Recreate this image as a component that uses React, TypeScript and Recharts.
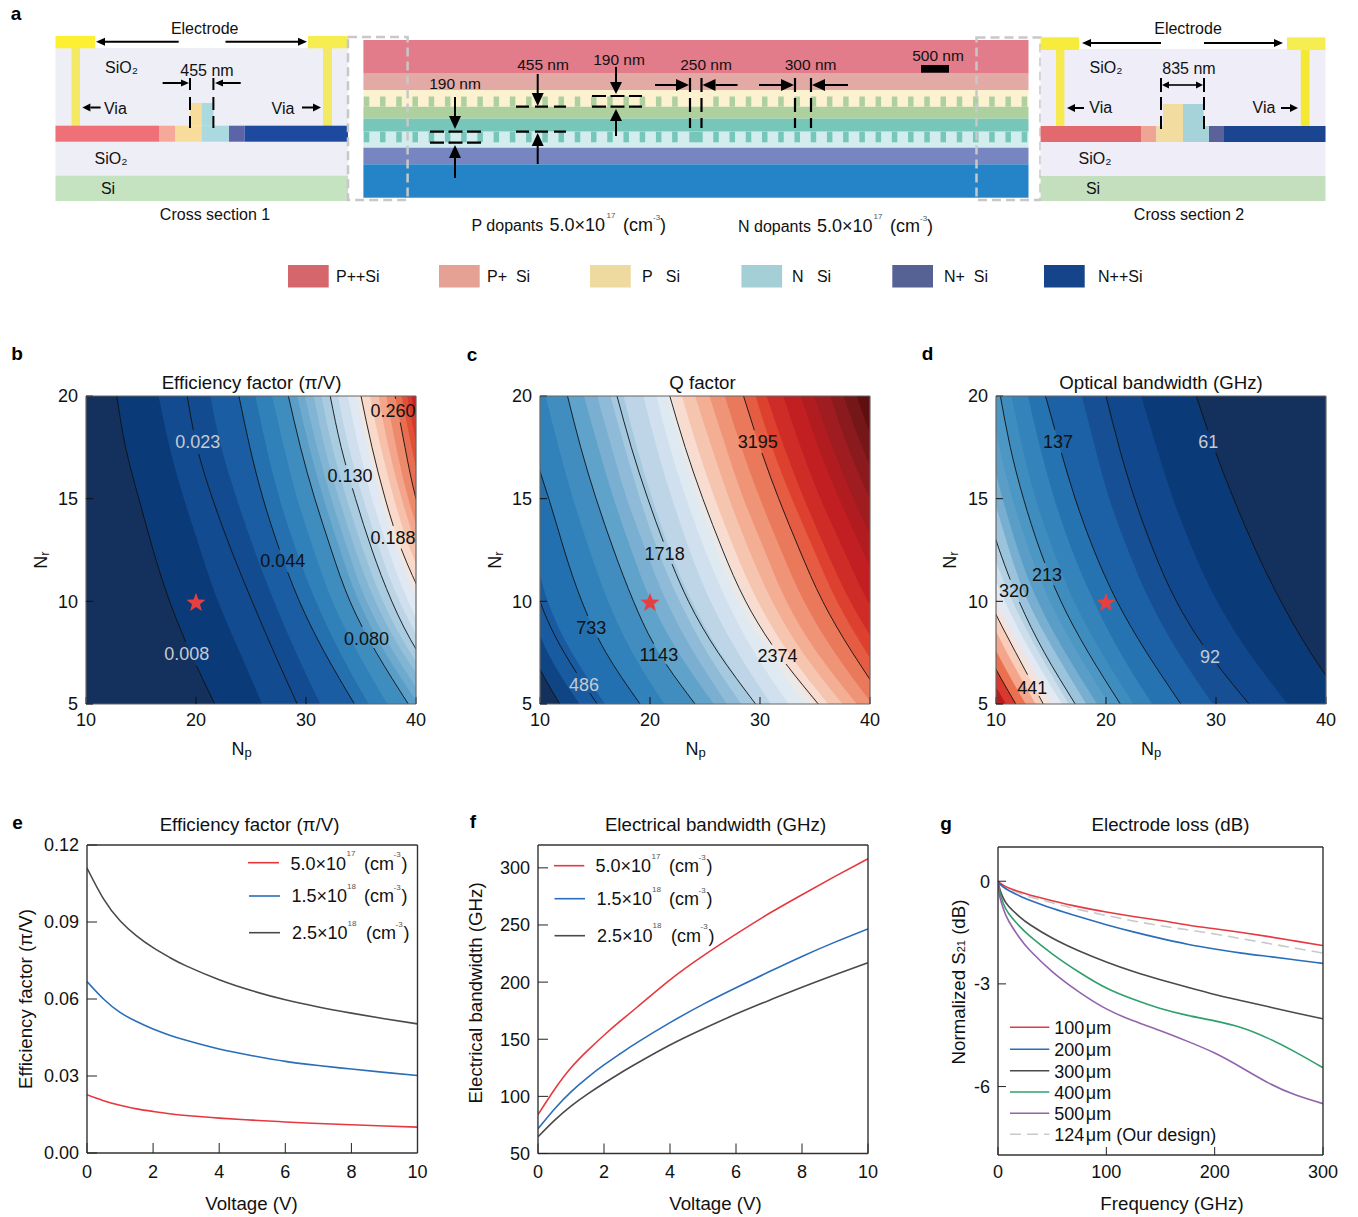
import React from 'react';
import {
  ComposedChart, LineChart, Line, Area, XAxis, YAxis, ReferenceDot, CartesianGrid,
} from 'recharts';

const FONT = '"Liberation Sans", Arial, sans-serif';

/* ---------- panels b, c, d : contour maps ---------- */
const NR_ROWS = [20, 17.5, 15, 12.5, 10, 7.5, 5];

// b: efficiency factor. Np position of each iso-line at every NR_ROWS entry
const bLines = [
  [12.8, 13.6, 14.8, 16.1, 17.6, 19.5, 21.7],
  [19.2, 20.1, 21.5, 23.2, 25.1, 27.1, 29.2],
  [23.9, 24.9, 26.1, 27.6, 29.4, 31.7, 34.4],
  [28.4, 29.5, 30.8, 32.3, 34, 36.4, 39.3],
  [32.2, 33.2, 34.5, 36, 37.8, 40.2, 43.5],
  [35, 36, 37.2, 38.7, 40.8, 43.5, 47],
  [38.1, 39, 40, 41.5, 43.5, 46.5, 50],
];
const bBase = '#14305d';
const bBands = [
  [12.8, 13.6, 14.8, 16.1, 17.6, 19.5, 21.7],
  [16.6, 17.6, 18.9, 20.4, 22, 24, 26],
  [21.3, 22.3, 23.7, 25.3, 27.1, 29.1, 31.3],
  [23.9, 24.9, 26.1, 27.6, 29.4, 31.7, 34.4],
  [25.4, 26.4, 27.6, 29.1, 30.9, 33.1, 35.7],
  [26.9, 28, 29.2, 30.7, 32.4, 34.7, 37.4],
  [28.4, 29.5, 30.8, 32.3, 34, 36.4, 39.3],
  [29.2, 30.3, 31.6, 33.1, 34.8, 37.2, 40.2],
  [29.9, 31, 32.3, 33.8, 35.5, 38, 41],
  [30.7, 31.7, 33, 34.5, 36.3, 38.8, 42],
  [31.4, 32.4, 33.7, 35.2, 37, 39.5, 42.8],
  [32.2, 33.2, 34.5, 36, 37.8, 40.2, 43.5],
  [32.9, 33.9, 35.2, 36.7, 38.5, 41, 44.2],
  [33.8, 34.8, 36, 37.5, 39.3, 41.8, 45],
  [34.6, 35.6, 36.8, 38.3, 40.2, 42.8, 46],
  [35, 36, 37.2, 38.7, 40.8, 43.5, 47],
  [35.8, 36.8, 38, 39.5, 41.6, 44.3, 48],
  [36.6, 37.5, 38.7, 40.2, 42.2, 45, 48.5],
  [37.3, 38.2, 39.3, 40.8, 42.8, 45.7, 49],
  [38.1, 39, 40, 41.5, 43.5, 46.5, 50],
  [38.7, 39.6, 40.7, 42.2, 44.2, 47.2, 51],
  [39.2, 40.1, 41.3, 42.9, 45, 48, 52],
  [39.6, 40.6, 41.9, 43.6, 45.7, 49, 53],
  [39.9, 41.1, 42.5, 44.3, 46.5, 50, 54],
];
const bColors = ['#0a3a78', '#134b90', '#1a5da2', '#2570af', '#3080b9', '#3f8cbf', '#5a9ec8', '#6ea9ce', '#82b4d4', '#96c0da', '#a9cce0', '#bbd4e6', '#cfdfed', '#e0e9f3', '#f0e6e2', '#f9d9ca', '#f6c0aa', '#f3a68b', '#ee8a6c', '#e86e51', '#e05138', '#d63a2d', '#c91f25', '#b81b1e'];
const bLabels = [
  { text: '0.023', np: 20.15, nr: 17.75, light: true },
  { text: '0.130', np: 34, nr: 16.08, light: false },
  { text: '0.260', np: 37.9, nr: 19.27, light: false },
  { text: '0.188', np: 37.9, nr: 13.08, light: false },
  { text: '0.044', np: 27.88, nr: 11.98, light: false },
  { text: '0.080', np: 35.5, nr: 8.18, light: false },
  { text: '0.008', np: 19.15, nr: 7.44, light: true },
];
// where each iso-line is interrupted for its label (along the line, in px)
const bBreaks = ['256 26 3000', '35 24 3000', '159 24 3000', '243 24 3000', '71 24 3000', '134 24 3000', '3 24 3000'];

// c: Q factor
const cLines = [
  [5, 5.5, 6.2, 7, 8, 9.3, 11.8],
  [6.4, 7.1, 7.9, 8.8, 10, 12.2, 15.2],
  [8, 9.3, 10.8, 12.2, 13.8, 16, 19.1],
  [12.5, 13.7, 15.1, 16.7, 18.5, 20.8, 24.1],
  [17, 18.3, 19.8, 21.5, 23.5, 26.2, 29.6],
  [21.8, 23.2, 24.8, 26.6, 28.7, 31.6, 35.3],
  [28.5, 30, 31.7, 33.6, 35.7, 38.4, 41.5],
];
const cBase = '#14305d';
const cBands = [
  [5, 5.5, 6.2, 7, 8, 9.3, 11.8],
  [5.6, 6.2, 7, 7.9, 9, 10.7, 13.6],
  [6.9, 7.7, 8.6, 9.5, 10.7, 12.9, 15.9],
  [8, 9.3, 10.8, 12.2, 13.8, 16, 19.1],
  [10.5, 11.7, 13, 14.5, 16.2, 18.4, 21.3],
  [12.5, 13.7, 15.1, 16.7, 18.5, 20.8, 24.1],
  [14, 15.3, 16.7, 18.3, 20.1, 22.6, 25.8],
  [15.2, 16.5, 17.9, 19.6, 21.5, 24, 27],
  [16.4, 17.7, 19.1, 20.7, 22.7, 25.2, 28.3],
  [17.6, 18.8, 20.2, 21.8, 23.8, 26.4, 29.6],
  [19.4, 20.6, 22, 23.6, 25.5, 28, 31],
  [20.6, 21.8, 23.3, 25, 27, 29.5, 32.6],
  [21.5, 22.8, 24.3, 26, 28, 30.8, 34],
  [22, 23.3, 24.9, 26.7, 28.8, 31.6, 35],
  [22.9, 24.3, 25.9, 27.7, 29.8, 32.6, 36.2],
  [24.1, 25.6, 27.2, 29, 31.1, 33.9, 37.5],
  [25.4, 26.9, 28.5, 30.4, 32.4, 35.2, 38.8],
  [26.8, 28.3, 30, 31.9, 34, 36.8, 40.2],
  [28.5, 30, 31.7, 33.6, 35.7, 38.4, 41.5],
  [29.6, 31.1, 32.9, 34.9, 37, 39.7, 42.7],
  [30.6, 32.2, 34, 36, 38.2, 41, 44],
  [32.1, 33.7, 35.5, 37.6, 39.8, 42.7, 46],
  [33.7, 35.3, 37.2, 39.3, 41.6, 44.6, 48],
  [34.9, 36.6, 38.5, 40.7, 43, 46.2, 50],
  [36.4, 38, 40, 42.3, 44.8, 48, 52],
  [37.6, 39.3, 41.4, 43.8, 46.4, 49.8, 54],
  [38.8, 40.5, 42.7, 45.2, 48, 51.6, 56],
];
const cColors = ['#0f4485', '#185ba0', '#2270b0', '#3182bb', '#418dc0', '#5fa2ca', '#7aafd2', '#8fbbd8', '#a5c9df', '#bdd5e7', '#d0e0ee', '#dfe9f2', '#ebe8e8', '#f7dccf', '#f6c5b0', '#f4ae94', '#ef9477', '#ea785b', '#e55c42', '#dd402f', '#d02c27', '#c21f23', '#b11c20', '#9f1c20', '#8a1a1d', '#751618', '#5f0f12'];
const cLabels = [
  { text: '3195', np: 29.8, nr: 17.75, light: false },
  { text: '1718', np: 21.33, nr: 12.3, light: false },
  { text: '733', np: 14.67, nr: 8.7, light: false },
  { text: '1143', np: 20.8, nr: 7.37, light: false },
  { text: '2374', np: 31.6, nr: 7.33, light: false },
  { text: '486', np: 14, nr: 5.92, light: true },
];
const cBreaks = ['3000', '290 24 3000', '231 24 3000', '263 24 3000', '153 24 3000', '270 24 3000', '36 24 3000'];

// d: optical bandwidth
const dLines = [
  [2, 2.9, 4, 5.6, 7.2, 9.2, 11.8],
  [3.5, 4.4, 5.6, 7.3, 9.4, 11.8, 14.3],
  [6.3, 7.5, 8.8, 10.3, 12.1, 14.4, 17.2],
  [10.4, 11.3, 12.5, 14, 15.9, 18.4, 21.3],
  [14.5, 15.8, 17.2, 18.9, 21, 23.7, 26.8],
  [20, 21.2, 22.6, 24.3, 26.4, 29.3, 33],
  [28.2, 29.8, 31.6, 33.6, 35.9, 38.6, 41.8],
];
const dBase = '#b81b1e';
const dBands = [
  [1, 1.9, 3, 4.6, 6.3, 8.3, 10.9],
  [2, 2.9, 4, 5.6, 7.2, 9.2, 11.8],
  [2.5, 3.4, 4.6, 6.2, 8, 10.1, 12.7],
  [3, 3.9, 5.1, 6.8, 8.7, 11, 13.6],
  [3.5, 4.4, 5.6, 7.3, 9.4, 11.8, 14.3],
  [4.2, 5.2, 6.4, 8, 10, 12.5, 15.1],
  [5, 6, 7.3, 8.9, 10.8, 13.2, 16],
  [5.7, 6.8, 8.1, 9.6, 11.5, 13.9, 16.6],
  [6.3, 7.5, 8.8, 10.3, 12.1, 14.4, 17.2],
  [7.4, 8.5, 9.8, 11.2, 12.9, 15.4, 18.2],
  [8.4, 9.4, 10.6, 12, 13.8, 16.3, 19.2],
  [9.5, 10.3, 11.5, 13, 14.9, 17.4, 20.3],
  [10.4, 11.3, 12.5, 14, 15.9, 18.4, 21.3],
  [11.4, 12.4, 13.6, 15.2, 17.1, 19.6, 22.5],
  [12.9, 14, 15.3, 16.9, 18.9, 21.3, 24.2],
  [14.5, 15.8, 17.2, 18.9, 21, 23.7, 26.8],
  [17.8, 19, 20.3, 22, 24, 26.6, 29.7],
  [20, 21.2, 22.6, 24.3, 26.4, 29.3, 33],
  [23.2, 24.6, 26.1, 27.9, 30.1, 33, 36.5],
  [28.2, 29.8, 31.6, 33.6, 35.9, 38.6, 41.8],
];
const dColors = ['#d8382d', '#ea7050', '#f3a68b', '#f8cdb9', '#f2e3de', '#e2e9f2', '#ccdeec', '#b4d1e4', '#9bc4dc', '#78afd1', '#5a9ec8', '#4c97c4', '#3f8cbf', '#3583bb', '#2673b1', '#1c61a5', '#164f93', '#11478c', '#0b3a78', '#14305d'];
const dLabels = [
  { text: '137', np: 15.64, nr: 17.78, light: false },
  { text: '61', np: 29.3, nr: 17.75, light: true },
  { text: '213', np: 14.64, nr: 11.26, light: false },
  { text: '320', np: 11.64, nr: 10.5, light: false },
  { text: '92', np: 29.45, nr: 7.3, light: true },
  { text: '441', np: 13.3, nr: 5.79, light: false },
];
const dBreaks = ['3000', '299 24 3000', '192 24 3000', '173 24 3000', '35 24 3000', '269 24 3000', '36 24 3000'];

const NP_TICKS = [10, 20, 30, 40];
const NR_TICKS = [5, 10, 15, 20];

/* ---------- panels e, f ---------- */
const VOLTAGE = [0, 0.5, 1, 1.5, 2, 2.5, 3, 4, 5, 6, 7, 8, 9, 10];
const effRed = [0.0227, 0.0204, 0.0186, 0.0172, 0.0162, 0.0153, 0.0146, 0.0136, 0.0128, 0.0121, 0.0115, 0.011, 0.0105, 0.0101];
const effBlue = [0.0668, 0.06, 0.0548, 0.0512, 0.0483, 0.0459, 0.0439, 0.0405, 0.0379, 0.0357, 0.0341, 0.0327, 0.0314, 0.0302];
const effBlack = [0.111, 0.099, 0.0905, 0.0846, 0.08, 0.0762, 0.0729, 0.0675, 0.0632, 0.0597, 0.0569, 0.0545, 0.0523, 0.0503];
const bwRed = [84, 106, 125, 140, 153.5, 166, 178, 202, 223, 242, 260, 276.5, 292.5, 308];
const bwBlue = [71.6, 89, 104, 116.5, 127.5, 137.5, 147, 164.5, 180.5, 195, 209, 222.5, 235, 246.6];
const bwBlack = [64.6, 79, 91.5, 102, 111.5, 120.5, 129, 145, 159, 172, 184, 195.5, 206.5, 217];

/* ---------- panel g ---------- */
const FREQ = [0, 1, 2, 5, 10, 20, 30, 50, 75, 100, 125, 150, 175, 200, 225, 250, 275, 300];
const loss100 = [0, -0.03, -0.06, -0.12, -0.2, -0.31, -0.41, -0.57, -0.75, -0.9, -1.03, -1.15, -1.28, -1.39, -1.5, -1.62, -1.75, -1.88];
const loss200 = [0, -0.05, -0.09, -0.17, -0.27, -0.43, -0.56, -0.79, -1.04, -1.27, -1.48, -1.67, -1.84, -1.98, -2.1, -2.2, -2.3, -2.4];
const loss300 = [0, -0.15, -0.27, -0.5, -0.74, -1.04, -1.28, -1.66, -2.04, -2.36, -2.64, -2.88, -3.1, -3.31, -3.49, -3.67, -3.85, -4.02];
const loss400 = [0, -0.2, -0.36, -0.66, -0.95, -1.32, -1.62, -2.12, -2.66, -3.12, -3.45, -3.72, -3.92, -4.08, -4.28, -4.6, -5.0, -5.45];
const loss500 = [0, -0.3, -0.5, -0.81, -1.17, -1.66, -2.04, -2.64, -3.24, -3.73, -4.08, -4.37, -4.68, -5.02, -5.45, -5.9, -6.25, -6.5];
const loss124 = [0, -0.04, -0.07, -0.14, -0.23, -0.35, -0.46, -0.63, -0.83, -1.0, -1.16, -1.3, -1.42, -1.54, -1.68, -1.82, -1.96, -2.1];
const lossLegend = ['100\u200Aμm', '200\u200Aμm', '300\u200Aμm', '400\u200Aμm', '500\u200Aμm', '124\u200Aμm (Our design)'];

const RED = '#e6393f';
const BLUE = '#2a6dbb';
const DARK = '#4a4a4a';
const GREEN = '#2fa06c';
const PURPLE = '#9264ac';
const DASHED = '#c9c9c9';

/* ---------- panel a legend ---------- */
const layerNames = ['P++Si', 'P+  Si', 'P   Si', 'N   Si', 'N+  Si', 'N++Si'];

const tickStyle = { fontSize: 18, fill: '#111', fontFamily: FONT };

function starPoints(cx: number, cy: number, R: number) {
  const pts: string[] = [];
  for (let i = 0; i < 10; i++) {
    const r = i % 2 === 0 ? R : R * 0.42;
    const a = -Math.PI / 2 + (i * Math.PI) / 5;
    pts.push(`${cx + r * Math.cos(a)},${cy + r * Math.sin(a)}`);
  }
  return pts.join(' ');
}

function ContourPanel({ left, plotW, base, bands, colors, lines, labels, breaks }: any) {
  const rows = NR_ROWS.map((nr, i) => {
    const row: any = { nr };
    bands.forEach((b: number[], k: number) => { row[`b${k}`] = [b[i], 80]; });
    lines.forEach((l: number[], k: number) => { row[`l${k}`] = l[i]; });
    return row;
  });
  const W = 56 + plotW + 34;
  const frame = { stroke: '#666', strokeWidth: 1.2 };
  return (
    <div style={{ position: 'absolute', left: left - 56, top: 366, width: W, height: 400 }}>
      <div style={{ position: 'absolute', left: 0, top: 0 }}>
        <ComposedChart width={W} height={400} data={rows} layout="vertical" margin={{ top: 30, right: 34, bottom: 62, left: 56 }}>
          <CartesianGrid fill={base} stroke="none" horizontal={false} vertical={false} />
          {bands.map((_: any, k: number) => (
            <Area key={k} dataKey={`b${k}`} type="natural" fill={colors[k]} fillOpacity={1} stroke="none" isAnimationActive={false} dot={false} activeDot={false} />
          ))}
          <XAxis hide type="number" domain={[10, 40]} allowDataOverflow />
          <YAxis hide type="number" dataKey="nr" domain={[5, 20]} reversed allowDataOverflow />
        </ComposedChart>
      </div>
      <div style={{ position: 'absolute', left: 0, top: 0 }}>
        <ComposedChart width={W} height={400} data={rows} layout="vertical" margin={{ top: 29, right: 33, bottom: 22, left: 0 }}>
          {lines.map((_: any, k: number) => (
            <Line key={k} dataKey={`l${k}`} type="natural" stroke="#111" strokeWidth={0.9} strokeDasharray={breaks[k]} dot={false} activeDot={false} isAnimationActive={false} />
          ))}
          {labels.map((l: any) => (
            <ReferenceDot
              key={l.text}
              x={l.np}
              y={l.nr}
              r={0}
              ifOverflow="visible"
              shape={(p: any) => (
                <text x={p.cx} y={p.cy} textAnchor="middle" dominantBaseline="central" fontSize={18} fontFamily={FONT}
                  fill={l.light ? '#c6cad2' : '#111'}>
                  {l.text}
                </text>
              )}
            />
          ))}
          <ReferenceDot
            x={20}
            y={10}
            r={0}
            ifOverflow="visible"
            shape={(p: any) => <polygon points={starPoints(p.cx, p.cy + 1.5, 10)} fill="#e63f42" />}
          />
          <XAxis type="number" domain={[10, 40]} ticks={NP_TICKS} allowDataOverflow interval={0} height={40}
            tickSize={-7} tickMargin={16} tick={tickStyle} tickLine={{ stroke: '#111' }} axisLine={frame} />
          <YAxis type="number" dataKey="nr" domain={[5, 20]} reversed ticks={NR_TICKS} allowDataOverflow interval={0} width={56}
            tickSize={-7} tickMargin={15} tick={tickStyle} tickLine={{ stroke: '#111' }} axisLine={frame} />
          <XAxis xAxisId="top" orientation="top" type="number" domain={[10, 40]} ticks={NP_TICKS} allowDataOverflow interval={0} height={1}
            tickSize={-7} tick={false} tickLine={{ stroke: '#111' }} axisLine={frame} />
          <YAxis yAxisId="right" orientation="right" type="number" domain={[5, 20]} reversed ticks={NR_TICKS} allowDataOverflow interval={0} width={1}
            tickSize={-7} tick={false} tickLine={{ stroke: '#111' }} axisLine={frame} />
        </ComposedChart>
      </div>
    </div>
  );
}

function CurvePanel({ plotL, plotT, plotW, plotH, rows, xKey, xDomain, xTicks, yDomain, yTicks, yFmt, series, tickLen, xExtra = 9, curve = 'natural' }: any) {
  const ax = { stroke: '#333', strokeWidth: 1.4 };
  return (
    <div style={{ position: 'absolute', left: plotL - 60, top: plotT - 20 }}>
      <LineChart width={60 + plotW + 30} height={20 + plotH + 60} data={rows} margin={{ top: 19, right: 29, bottom: 20, left: 0 }}>
        {series.map((s: any) => (
          <Line key={s.key} dataKey={s.key} type={curve} stroke={s.color} strokeWidth={s.w || 1.6} strokeDasharray={s.dash} dot={false} activeDot={false} isAnimationActive={false} />
        ))}
        <XAxis type="number" dataKey={xKey} domain={xDomain} ticks={xTicks} allowDataOverflow interval={0} height={40}
          tickSize={-tickLen} tickMargin={tickLen + xExtra} tick={tickStyle} tickLine={{ stroke: '#222' }} axisLine={ax} />
        <YAxis type="number" domain={yDomain} ticks={yTicks} tickFormatter={yFmt} allowDataOverflow interval={0} width={60}
          tickSize={-tickLen} tickMargin={tickLen + 8} tick={tickStyle} tickLine={{ stroke: '#222' }} axisLine={ax} />
        <XAxis xAxisId="top" orientation="top" type="number" domain={xDomain} allowDataOverflow height={1} tick={false} tickLine={false} axisLine={ax} />
        <YAxis yAxisId="right" orientation="right" type="number" domain={yDomain} allowDataOverflow width={1} tick={false} tickLine={false} axisLine={ax} />
      </LineChart>
    </div>
  );
}

/* ---------- overlay helpers ---------- */
function T({ x, y, s = 16, a = 'middle', w, c = '#111', r, children }: any) {
  return (
    <text x={x} y={y} fontSize={s} textAnchor={a} dominantBaseline="central" fontFamily={FONT} fontWeight={w} fill={c} xmlSpace="preserve"
      transform={r ? `rotate(${r} ${x} ${y})` : undefined}>
      {children}
    </text>
  );
}

function Arrow({ x1, y1, x2, y2, sw = 2, hl = 11, hw = 5 }: any) {
  const L = Math.hypot(x2 - x1, y2 - y1);
  const ux = (x2 - x1) / L;
  const uy = (y2 - y1) / L;
  const bx = x2 - ux * hl;
  const by = y2 - uy * hl;
  return (
    <g>
      <line x1={x1} y1={y1} x2={bx} y2={by} stroke="#000" strokeWidth={sw} />
      <polygon points={`${x2},${y2} ${bx - uy * hw},${by + ux * hw} ${bx + uy * hw},${by - ux * hw}`} fill="#000" />
    </g>
  );
}

function R({ x1, x2, y1, y2, f }: any) {
  return <rect x={x1} y={y1} width={x2 - x1} height={y2 - y1} fill={f} />;
}

function Dash({ x1, y1, x2, y2, d = '13 6', sw = 2 }: any) {
  return <line x1={x1} y1={y1} x2={x2} y2={y2} stroke="#000" strokeWidth={sw} strokeDasharray={d} />;
}

function Conc({ x, y, m, ex, sx, px }: any) {
  return (
    <g>
      <T x={x} y={y} s={18} a="start">{m}</T>
      <T x={sx} y={y - 10} s={8} a="start" c="#555">{ex}</T>
      <T x={px} y={y} s={18} a="start">(cm</T>
      <T x={px + 29.5} y={y - 9} s={8} a="start" c="#555">-3</T>
      <T x={px + 37.5} y={y} s={18} a="start">)</T>
    </g>
  );
}

const toothKs = Array.from({ length: 20 }, (_, i) => i - 1);
const toothMs = Array.from({ length: 20 }, (_, i) => i);

function CrossSection1() {
  return (
    <g>
      <R x1={55.5} x2={348} y1={48} y2={176} f="#eeeef7" />
      <R x1={55.5} x2={95} y1={36} y2={48.3} f="#fdf033" />
      <R x1={308} x2={348} y1={36} y2={48.3} f="#f6ee50" />
      <R x1={71.5} x2={80} y1={48} y2={126} f="#f3e965" />
      <R x1={323} x2={332} y1={48} y2={126} f="#f3e965" />
      <R x1={55.5} x2={159} y1={125.7} y2={141.7} f="#ef7177" />
      <R x1={159} x2={175} y1={125.7} y2={141.7} f="#f6a899" />
      <R x1={175} x2={201.6} y1={125.7} y2={141.7} f="#f7dc9c" />
      <R x1={201.6} x2={229} y1={125.7} y2={141.7} f="#aadae0" />
      <R x1={229} x2={244.6} y1={125.7} y2={141.7} f="#5c63a6" />
      <R x1={244.6} x2={348} y1={125.7} y2={141.7} f="#1d4a9f" />
      <R x1={190} x2={201.6} y1={103} y2={125.7} f="#f7dc9c" />
      <R x1={201.6} x2={213.4} y1={103} y2={125.7} f="#aadae0" />
      <R x1={55.5} x2={348} y1={175.7} y2={201} f="#c5e3c0" />
      <Dash x1={190} y1={97} x2={190} y2={128} />
      <Dash x1={213.4} y1={97} x2={213.4} y2={128} />
      <line x1={190} y1={78} x2={190} y2={90} stroke="#000" strokeWidth={2} />
      <line x1={213.4} y1={78} x2={213.4} y2={90} stroke="#000" strokeWidth={2} />
      <Arrow x1={162.6} y1={83} x2={189} y2={83} hl={8} hw={3.5} />
      <Arrow x1={240.7} y1={83} x2={215} y2={83} hl={8} hw={3.5} />
      <Arrow x1={178.7} y1={41.7} x2={96} y2={41.7} hl={9} hw={4} />
      <Arrow x1={225.5} y1={41.7} x2={307} y2={41.7} hl={9} hw={4} />
      <Arrow x1={100.6} y1={107.5} x2={82.4} y2={107.5} hl={8} hw={4} />
      <Arrow x1={302} y1={107.5} x2={321} y2={107.5} hl={8} hw={4} />
      <T x={204.7} y={28}>Electrode</T>
      <T x={207} y={70}>455 nm</T>
      <T x={121.4} y={67}>SiO₂</T>
      <T x={111} y={158}>SiO₂</T>
      <T x={108} y={188}>Si</T>
      <T x={115.4} y={108}>Via</T>
      <T x={283} y={108}>Via</T>
      <T x={215} y={214}>Cross section 1</T>
    </g>
  );
}

function CrossSection2() {
  return (
    <g>
      <R x1={1040.6} x2={1325.5} y1={49} y2={176} f="#eeedf8" />
      <R x1={1040.6} x2={1079} y1={37.3} y2={50} f="#f7ec3c" />
      <R x1={1287} x2={1325.5} y1={37.3} y2={50} f="#f6ee50" />
      <R x1={1056} x2={1064.4} y1={50} y2={126} f="#f6ea50" />
      <R x1={1300.8} x2={1309.5} y1={50} y2={126} f="#f4e832" />
      <R x1={1040.6} x2={1141} y1={126} y2={142} f="#e26a6e" />
      <R x1={1141} x2={1156.4} y1={126} y2={142} f="#eea595" />
      <R x1={1156.4} x2={1183} y1={126} y2={142} f="#f3dca0" />
      <R x1={1183} x2={1209} y1={126} y2={142} f="#a6d3d9" />
      <R x1={1209} x2={1224} y1={126} y2={142} f="#5a6299" />
      <R x1={1224} x2={1325.5} y1={126} y2={142} f="#1b4590" />
      <R x1={1163} x2={1183} y1={104} y2={126} f="#f3dca0" />
      <R x1={1183} x2={1203.6} y1={104} y2={126} f="#a6d3d9" />
      <R x1={1040.6} x2={1325.5} y1={176} y2={201} f="#c4dfbe" />
      <Dash x1={1161} y1={97} x2={1161} y2={129} />
      <Dash x1={1204} y1={97} x2={1204} y2={129} />
      <line x1={1161} y1={78} x2={1161} y2={92} stroke="#000" strokeWidth={2} />
      <line x1={1204} y1={78} x2={1204} y2={92} stroke="#000" strokeWidth={2} />
      <Arrow x1={1182} y1={85} x2={1162} y2={85} hl={7} hw={3.5} sw={1.6} />
      <Arrow x1={1182} y1={85} x2={1203} y2={85} hl={7} hw={3.5} sw={1.6} />
      <Arrow x1={1161} y1={43} x2={1082} y2={43} hl={9} hw={4} />
      <Arrow x1={1204} y1={43} x2={1283} y2={43} hl={9} hw={4} />
      <Arrow x1={1084} y1={108} x2={1067} y2={108} hl={8} hw={4} />
      <Arrow x1={1281} y1={108} x2={1298} y2={108} hl={8} hw={4} />
      <T x={1188} y={28}>Electrode</T>
      <T x={1189} y={68.5}>835 nm</T>
      <T x={1106} y={67}>SiO₂</T>
      <T x={1095} y={158}>SiO₂</T>
      <T x={1093} y={188}>Si</T>
      <T x={1100.7} y={107}>Via</T>
      <T x={1264} y={107}>Via</T>
      <T x={1189} y={214}>Cross section 2</T>
    </g>
  );
}

function Waveguide() {
  const L = 363.4;
  const W = 1028.5;
  const leftTeeth = toothKs.map((k) => 380 + 16.23 * k);
  const rightTeeth = toothMs.map((m) => 713.3 + 16.23 * m).filter((x) => x < W - 4);
  const all = [...leftTeeth, ...rightTeeth];
  return (
    <g>
      <R x1={L} x2={W} y1={40} y2={73} f="#e27b8a" />
      <R x1={L} x2={W} y1={73} y2={90} f="#e3aaa5" />
      <R x1={L} x2={W} y1={90} y2={106.7} f="#fdf2d0" />
      <R x1={L} x2={W} y1={106.7} y2={118.7} f="#aed09f" />
      <R x1={L} x2={W} y1={118.7} y2={131.7} f="#76c6ba" />
      <R x1={L} x2={W} y1={131.7} y2={147.7} f="#d3edef" />
      <R x1={L} x2={W} y1={147.7} y2={164.3} f="#7785c0" />
      <R x1={L} x2={W} y1={164.3} y2={197.7} f="#2583c8" />
      {all.map((x) => <R key={`t${x}`} x1={x} x2={x + 5.5} y1={96.5} y2={106.7} f="#aed09f" />)}
      {all.map((x) => <R key={`u${x}`} x1={x} x2={x + 5.5} y1={131.7} y2={142.3} f="#76c6ba" />)}
      <R x1={689.3} x2={702.7} y1={131.7} y2={142.3} f="#76c6ba" />
      {/* left measure */}
      <T x={455} y={83} s={15.5}>190 nm</T>
      <Arrow x1={455} y1={97} x2={455} y2={129} hl={13} hw={6} />
      <Arrow x1={455} y1={178} x2={455} y2={145} hl={13} hw={6} />
      <Dash x1={430} y1={131.7} x2={481} y2={131.7} d="14 4.5" sw={2.2} />
      <Dash x1={430} y1={142.7} x2={481} y2={142.7} d="14 4.5" sw={2.2} />
      {/* second measure */}
      <T x={543} y={64} s={15.5}>455 nm</T>
      <Arrow x1={537.7} y1={74} x2={537.7} y2={106} hl={13} hw={6} />
      <Arrow x1={537.7} y1={164} x2={537.7} y2={133} hl={13} hw={6} />
      <Dash x1={516} y1={106.7} x2={566} y2={106.7} d="13 6" sw={2.2} />
      <Dash x1={516} y1={131.7} x2={566} y2={131.7} d="13 6" sw={2.2} />
      {/* third measure */}
      <T x={619} y={59} s={15.5}>190 nm</T>
      <Arrow x1={616} y1={67} x2={616} y2={94} hl={12} hw={6} />
      <Arrow x1={616} y1={136} x2={616} y2={109} hl={12} hw={6} />
      <Dash x1={592} y1={96} x2={642} y2={96} d="14 4.5" sw={2.2} />
      <Dash x1={592} y1={106.7} x2={642} y2={106.7} d="14 4.5" sw={2.2} />
      {/* gap measures */}
      <T x={706} y={64} s={15.5}>250 nm</T>
      <Dash x1={690} y1={78} x2={690} y2={128} d="14 6" sw={2.2} />
      <Dash x1={701.5} y1={78} x2={701.5} y2={128} d="14 6" sw={2.2} />
      <Arrow x1={655} y1={85} x2={689} y2={85} hl={13} hw={6} />
      <Arrow x1={737.5} y1={85} x2={702.5} y2={85} hl={13} hw={6} />
      <T x={810.6} y={64} s={15.5}>300 nm</T>
      <Dash x1={795} y1={78} x2={795} y2={128} d="14 6" sw={2.2} />
      <Dash x1={811} y1={78} x2={811} y2={128} d="14 6" sw={2.2} />
      <Arrow x1={759} y1={85} x2={794} y2={85} hl={13} hw={6} />
      <Arrow x1={848} y1={85} x2={812} y2={85} hl={13} hw={6} />
      <T x={938} y={55} s={15.5}>500 nm</T>
      <R x1={921} x2={949} y1={65} y2={72.7} f="#000" />
      {/* grey selection frames */}
      <rect x={348} y={37} width={59.6} height={163} fill="none" stroke="#c8c8c8" strokeWidth={2.5} strokeDasharray="9 5" />
      <rect x={976.5} y={37.5} width={64} height={162.5} fill="none" stroke="#c8c8c8" strokeWidth={2.5} strokeDasharray="9 5" />
    </g>
  );
}

function LayerLegend() {
  const xs = [288, 439, 590, 741.4, 892.3, 1044];
  const fills = ['#d5676c', '#e5a294', '#eeda9f', '#a5cfd6', '#566293', '#16448b'];
  const tx = [336, 487, 642, 792, 944, 1098];
  return (
    <g>
      {layerNames.map((n, i) => (
        <g key={n}>
          <R x1={xs[i]} x2={xs[i] + 40.7} y1={265} y2={287.5} f={fills[i]} />
          <T x={tx[i]} y={276} a="start" s={16}>{n}</T>
        </g>
      ))}
    </g>
  );
}

function Sub({ x, y, base, sub, r }: any) {
  return (
    <text x={x} y={y} fontSize={18} textAnchor="middle" dominantBaseline="central" fontFamily={FONT} fill="#111"
      transform={r ? `rotate(${r} ${x} ${y})` : undefined}>
      {base}<tspan fontSize={13} dy={3}>{sub}</tspan>
    </text>
  );
}

function Overlay() {
  const gLegendY = [1027.3, 1049.3, 1070.7, 1092, 1113.3, 1134.3];
  const gLegendC = [RED, BLUE, DARK, GREEN, PURPLE, DASHED];
  return (
    <svg width={1358} height={1217} style={{ position: 'absolute', left: 0, top: 0, pointerEvents: 'none' }}>
      <T x={16} y={13} s={19} w="bold" c="#000">a</T>
      <T x={17} y={353} s={19} w="bold" c="#000">b</T>
      <T x={472} y={354} s={19} w="bold" c="#000">c</T>
      <T x={927.5} y={353} s={19} w="bold" c="#000">d</T>
      <T x={17.5} y={822} s={19} w="bold" c="#000">e</T>
      <T x={473} y={821} s={19} w="bold" c="#000">f</T>
      <T x={946} y={823} s={19} w="bold" c="#000">g</T>

      <CrossSection1 />
      <Waveguide />
      <CrossSection2 />

      <T x={471.5} y={225} s={16} a="start">P dopants</T>
      <T x={549.5} y={225} s={18} a="start">5.0×10</T>
      <T x={606.5} y={215} s={8} a="start" c="#555">17</T>
      <T x={623} y={225} s={18} a="start">(cm</T>
      <T x={653} y={217} s={8} a="start" c="#555">-3</T>
      <T x={660} y={225} s={18} a="start">)</T>
      <T x={738} y={226} s={16} a="start">N dopants</T>
      <T x={817} y={226} s={18} a="start">5.0×10</T>
      <T x={873.5} y={216} s={8} a="start" c="#555">17</T>
      <T x={890} y={226} s={18} a="start">(cm</T>
      <T x={920} y={218} s={8} a="start" c="#555">-3</T>
      <T x={927} y={226} s={18} a="start">)</T>

      <LayerLegend />

      <T x={251.5} y={382.5} s={18.7}>Efficiency factor (π/V)</T>
      <T x={702.5} y={382.5} s={18.7}>Q factor</T>
      <T x={1161} y={382} s={18.7}>Optical bandwidth (GHz)</T>
      <Sub x={241.5} y={749} base="N" sub="p" />
      <Sub x={695.5} y={749} base="N" sub="p" />
      <Sub x={1151} y={749} base="N" sub="p" />
      <Sub x={40.5} y={560} base="N" sub="r" r={-90} />
      <Sub x={494.5} y={560} base="N" sub="r" r={-90} />
      <Sub x={950} y={560} base="N" sub="r" r={-90} />

      <T x={249.5} y={824.5} s={18.7}>Efficiency factor (π/V)</T>
      <T x={715.5} y={824.5} s={18.7}>Electrical bandwidth (GHz)</T>
      <T x={1170.5} y={824.5} s={18.7}>Electrode loss (dB)</T>
      <T x={251.5} y={1203} s={18.7}>Voltage (V)</T>
      <T x={715.5} y={1203} s={18.7}>Voltage (V)</T>
      <T x={1172} y={1203} s={18.7}>Frequency (GHz)</T>
      <T x={25} y={999} s={18.7} r={-90}>Efficiency factor (π/V)</T>
      <T x={475} y={993} s={18.7} r={-90}>Electrical bandwidth (GHz)</T>
      <text x={958} y={982} fontSize={18.7} textAnchor="middle" dominantBaseline="central" fontFamily={FONT} fill="#111" transform="rotate(-90 958 982)">
        Normalized S<tspan fontSize={11} dy={3}>21</tspan><tspan dy={-3}>  (dB)</tspan>
      </text>

      {/* e legend */}
      <line x1={248} x2={279} y1={862.7} y2={862.7} stroke={RED} strokeWidth={1.6} />
      <line x1={249} x2={280} y1={896} y2={896} stroke={BLUE} strokeWidth={1.6} />
      <line x1={249} x2={280} y1={932.7} y2={932.7} stroke={DARK} strokeWidth={1.6} />
      <Conc x={290.5} y={863.5} m="5.0×10" ex="17" sx={346.5} px={364} />
      <Conc x={291.5} y={896} m="1.5×10" ex="18" sx={347} px={364} />
      <Conc x={292} y={933} m="2.5×10" ex="18" sx={347.5} px={366} />

      {/* f legend */}
      <line x1={554} x2={584.3} y1={865.7} y2={865.7} stroke={RED} strokeWidth={1.6} />
      <line x1={554.5} x2={585} y1={898.7} y2={898.7} stroke={BLUE} strokeWidth={1.6} />
      <line x1={554.5} x2={585} y1={935.7} y2={935.7} stroke={DARK} strokeWidth={1.6} />
      <Conc x={595.5} y={866} m="5.0×10" ex="17" sx={651.5} px={669} />
      <Conc x={596.5} y={899} m="1.5×10" ex="18" sx={652} px={669} />
      <Conc x={597} y={935.5} m="2.5×10" ex="18" sx={652.5} px={671} />

      {/* g legend */}
      {lossLegend.map((name, i) => (
        <g key={name}>
          <line x1={1010} x2={1049.3} y1={gLegendY[i]} y2={gLegendY[i]} stroke={gLegendC[i]} strokeWidth={1.6} strokeDasharray={i === 5 ? '11 6' : undefined} />
          <T x={1054.3} y={gLegendY[i] + 1} s={18} a="start">{name}</T>
        </g>
      ))}
    </svg>
  );
}

const effRows = VOLTAGE.map((v, i) => ({ v, r: effRed[i], b: effBlue[i], k: effBlack[i] }));
const bwRows = VOLTAGE.map((v, i) => ({ v, r: bwRed[i], b: bwBlue[i], k: bwBlack[i] }));
const lossRows = FREQ.map((f, i) => ({ f, a: loss100[i], b: loss200[i], c: loss300[i], d: loss400[i], e: loss500[i], g: loss124[i] }));
const threeSeries = [
  { key: 'r', color: RED },
  { key: 'b', color: BLUE },
  { key: 'k', color: DARK },
];

export default function App() {
  return (
    <div style={{ position: 'absolute', left: 0, top: 0, width: 1358, height: 1217, background: '#fff', overflow: 'hidden', fontFamily: FONT }}>
      <ContourPanel left={86} plotW={330} base={bBase} bands={bBands} colors={bColors} lines={bLines} labels={bLabels} breaks={bBreaks} />
      <ContourPanel left={540} plotW={330} base={cBase} bands={cBands} colors={cColors} lines={cLines} labels={cLabels} breaks={cBreaks} />
      <ContourPanel left={995.5} plotW={330} base={dBase} bands={dBands} colors={dColors} lines={dLines} labels={dLabels} breaks={dBreaks} />
      <CurvePanel plotL={86.5} plotT={845} plotW={330.5} plotH={308} rows={effRows} xKey="v" xDomain={[0, 10]} xTicks={[0, 2, 4, 6, 8, 10]}
        yDomain={[0, 0.12]} yTicks={[0, 0.03, 0.06, 0.09, 0.12]} yFmt={(v: number) => v.toFixed(2)} series={threeSeries} tickLen={10} xExtra={12} />
      <CurvePanel plotL={537.5} plotT={845} plotW={330} plotH={308.5} rows={bwRows} xKey="v" xDomain={[0, 10]} xTicks={[0, 2, 4, 6, 8, 10]}
        yDomain={[50, 320]} yTicks={[50, 100, 150, 200, 250, 300]} series={threeSeries} tickLen={10} xExtra={12} />
      <CurvePanel plotL={998} plotT={847} plotW={325} plotH={308} rows={lossRows} xKey="f" xDomain={[0, 300]} xTicks={[0, 100, 200, 300]}
        yDomain={[-8, 1]} yTicks={[-6, -3, 0]} tickLen={8} xExtra={10}
        series={[
          { key: 'g', color: DASHED, dash: '11 6' },
          { key: 'a', color: RED },
          { key: 'b', color: BLUE },
          { key: 'c', color: DARK },
          { key: 'd', color: GREEN },
          { key: 'e', color: PURPLE },
        ]} />
      <Overlay />
    </div>
  );
}
